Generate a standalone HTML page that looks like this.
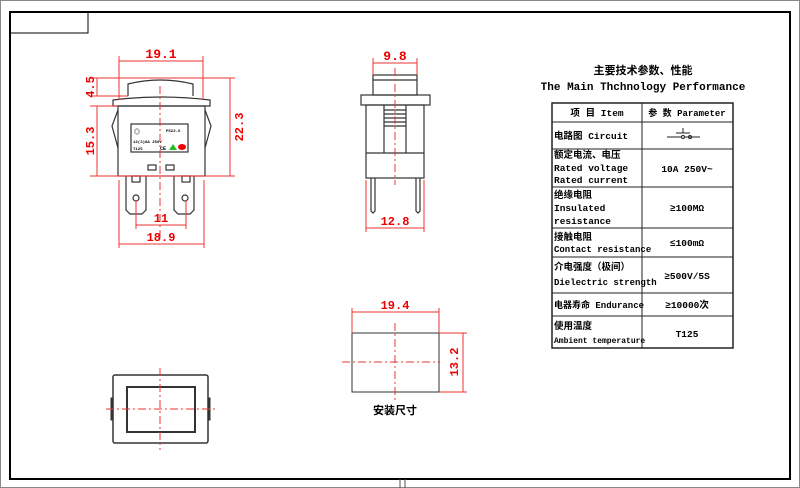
<!DOCTYPE html>
<html><head><meta charset="utf-8"><style>
body{margin:0;background:#fff}
svg{display:block}
.r{fill:#e00;font-family:"Liberation Mono","Noto Sans CJK SC",monospace;font-weight:bold}
.k{font-family:"Liberation Mono","Noto Sans CJK SC",monospace;font-weight:bold;fill:#000}
</style></head><body>
<svg width="800" height="488" viewBox="0 0 800 488" xmlns="http://www.w3.org/2000/svg">
<rect x="0.5" y="0.5" width="799" height="487" fill="none" stroke="#888"/>
<rect x="10" y="12" width="780" height="467" fill="none" stroke="#000" stroke-width="2"/>
<rect x="10" y="12" width="78" height="21" fill="none" stroke="#000"/>
<line x1="400" y1="479" x2="400" y2="488" stroke="#555"/><line x1="405" y1="479" x2="405" y2="488" stroke="#555"/>

<!-- front view -->
<g stroke="#333" fill="none" stroke-width="1.2">
<path d="M128 96 L128 84 Q160 76 193 84 L193 96"/>
<path d="M113 106 L113 100 Q160 94 210 100 L210 106 Z"/>
<rect x="118" y="106" width="87" height="70"/>
<path d="M118 110 L112 126 L118 148"/><path d="M205 110 L211 126 L205 148"/>
<rect x="131" y="124" width="57" height="28"/>
<rect x="148" y="165" width="8" height="5"/><rect x="166" y="165" width="8" height="5"/>
<path d="M126 176 L126 210 L130 214 L142 214 L146 210 L146 176"/>
<path d="M174 176 L174 210 L178 214 L190 214 L194 210 L194 176"/>
<rect x="132" y="176" width="8" height="6"/><rect x="182" y="176" width="8" height="6"/>
<circle cx="136" cy="198" r="3"/><circle cx="185" cy="198" r="3"/>
</g>
<text x="134" y="134" font-size="6" class="k">◎</text>
<text x="133" y="143" font-size="4" class="k">12(3)8A 250V</text>
<text x="133" y="150" font-size="4" class="k">T125</text>
<text x="166" y="132" font-size="4" class="k">PS22-6</text>
<text x="160" y="150" font-size="5" class="k">CE</text>
<polygon points="169,150 173,144 177,150" fill="#2b2"/>
<ellipse cx="182" cy="147" rx="4" ry="3" fill="#e00"/>
<g stroke="#e33" fill="none" stroke-width="1">
<line x1="160" y1="86" x2="160" y2="240" stroke-dasharray="8,3,2,3"/>
<line x1="119" y1="61" x2="203" y2="61"/><line x1="119" y1="56" x2="119" y2="100"/><line x1="203" y1="56" x2="203" y2="100"/>
<line x1="90" y1="78" x2="235" y2="78"/><line x1="90" y1="96" x2="128" y2="96"/>
<line x1="97" y1="78" x2="97" y2="96"/>
<line x1="90" y1="106" x2="118" y2="106"/><line x1="90" y1="176" x2="235" y2="176"/>
<line x1="97" y1="106" x2="97" y2="176"/>
<line x1="230" y1="78" x2="230" y2="176"/>
<line x1="136" y1="200" x2="136" y2="229"/><line x1="186" y1="200" x2="186" y2="229"/>
<line x1="136" y1="225" x2="186" y2="225"/>
<line x1="119" y1="180" x2="119" y2="248"/><line x1="204" y1="180" x2="204" y2="248"/>
<line x1="119" y1="244" x2="204" y2="244"/>
</g>
<text x="161" y="58" font-size="13" class="r" text-anchor="middle">19.1</text>
<text x="161" y="222" font-size="12" class="r" text-anchor="middle">11</text>
<text x="161" y="241" font-size="12" class="r" text-anchor="middle">18.9</text>
<text class="r" font-size="12" transform="translate(94,87) rotate(-90)" text-anchor="middle">4.5</text>
<text class="r" font-size="12" transform="translate(94,141) rotate(-90)" text-anchor="middle">15.3</text>
<text class="r" font-size="12" transform="translate(243,127) rotate(-90)" text-anchor="middle">22.3</text>

<!-- side view -->
<g stroke="#333" fill="none" stroke-width="1.2">
<rect x="373" y="75" width="44" height="20"/><line x1="373" y1="80" x2="417" y2="80"/>
<rect x="361" y="95" width="69" height="10"/>
<rect x="366" y="105" width="58" height="73"/>
<line x1="366" y1="153" x2="424" y2="153"/>
<line x1="384" y1="105" x2="384" y2="153"/><line x1="406" y1="105" x2="406" y2="153"/>
<line x1="384" y1="110" x2="406" y2="110"/><line x1="384" y1="114" x2="406" y2="114"/><line x1="384" y1="118" x2="406" y2="118"/><line x1="384" y1="122" x2="406" y2="122"/><line x1="384" y1="126" x2="406" y2="126"/>
<path d="M371 178 L371 211 L373 213 L375 211 L375 178"/>
<path d="M416 178 L416 211 L418 213 L420 211 L420 178"/>
</g>
<g stroke="#e33" fill="none">
<line x1="395" y1="68" x2="395" y2="185" stroke-dasharray="8,3,2,3"/>
<line x1="373" y1="63" x2="417" y2="63"/><line x1="373" y1="58" x2="373" y2="75"/><line x1="417" y1="58" x2="417" y2="75"/>
<line x1="366" y1="228" x2="424" y2="228"/><line x1="366" y1="180" x2="366" y2="232"/><line x1="424" y1="180" x2="424" y2="232"/>
</g>
<text x="395" y="60" font-size="13" class="r" text-anchor="middle">9.8</text>
<text x="395" y="225" font-size="12" class="r" text-anchor="middle">12.8</text>

<!-- bottom left -->
<g stroke="#333" fill="none">
<rect x="113" y="375" width="95" height="68" rx="2" stroke-width="1.5"/>
<rect x="127" y="387" width="68" height="45" stroke-width="2"/>
<rect x="111" y="398" width="2" height="22" fill="#333"/><rect x="208" y="398" width="2" height="22" fill="#333"/>
</g>
<g stroke="#e33" stroke-dasharray="8,3,2,3"><line x1="160" y1="368" x2="160" y2="450"/><line x1="106" y1="409" x2="216" y2="409"/></g>

<!-- cutout -->
<rect x="352" y="333" width="87" height="59" fill="none" stroke="#333"/>
<g stroke="#e33" fill="none">
<line x1="395" y1="323" x2="395" y2="403" stroke-dasharray="8,3,2,3"/>
<line x1="342" y1="362" x2="440" y2="362" stroke-dasharray="8,3,2,3"/>
<line x1="352" y1="312" x2="439" y2="312"/><line x1="352" y1="308" x2="352" y2="333"/><line x1="439" y1="308" x2="439" y2="333"/>
<line x1="439" y1="333" x2="467" y2="333"/><line x1="439" y1="392" x2="467" y2="392"/><line x1="463" y1="333" x2="463" y2="392"/>
</g>
<text x="395" y="309" font-size="12" class="r" text-anchor="middle">19.4</text>
<text class="r" font-size="12" transform="translate(458,362) rotate(-90)" text-anchor="middle">13.2</text>
<text x="395" y="414" font-size="11" class="k" text-anchor="middle">安装尺寸</text>

<!-- table -->
<text x="643" y="74" font-size="11" class="k" text-anchor="middle">主要技术参数、性能</text>
<text x="643" y="90" font-size="11" class="k" text-anchor="middle">The Main Thchnology Performance</text>
<g stroke="#222" fill="none" stroke-width="1">
<rect x="552" y="103" width="181" height="245" stroke-width="1.5"/>
<line x1="642" y1="103" x2="642" y2="348"/>
<line x1="552" y1="122" x2="733" y2="122"/><line x1="552" y1="149" x2="733" y2="149"/>
<line x1="552" y1="187" x2="733" y2="187"/><line x1="552" y1="228" x2="733" y2="228"/>
<line x1="552" y1="257" x2="733" y2="257"/><line x1="552" y1="293" x2="733" y2="293"/>
<line x1="552" y1="316" x2="733" y2="316"/>
<path d="M667 137 L682 137 M685 137 L700 137 M676 133 L690 133 M683 128 L683 133"/>
<circle cx="683" cy="137" r="1.5"/><circle cx="690" cy="137" r="1.5"/>
</g>
<g class="k" font-size="9.5">
<text x="597" y="116" text-anchor="middle">项 目 Item</text>
<text x="687" y="116" text-anchor="middle" font-size="9">参 数 Parameter</text>
<text x="554" y="139">电路图 Circuit</text>
<text x="554" y="158">额定电流、电压</text>
<text x="554" y="171">Rated voltage</text>
<text x="554" y="183">Rated current</text>
<text x="687" y="172" text-anchor="middle">10A 250V~</text>
<text x="554" y="198">绝缘电阻</text>
<text x="554" y="211">Insulated</text>
<text x="554" y="224">resistance</text>
<text x="687" y="211" text-anchor="middle">≥100MΩ</text>
<text x="554" y="240">接触电阻</text>
<text x="554" y="252" font-size="9">Contact resistance</text>
<text x="687" y="246" text-anchor="middle">≤100mΩ</text>
<text x="554" y="270">介电强度（极间）</text>
<text x="554" y="285" font-size="9">Dielectric strength</text>
<text x="687" y="279" text-anchor="middle">≥500V/5S</text>
<text x="554" y="308" font-size="9">电器寿命 Endurance</text>
<text x="687" y="308" text-anchor="middle">≥10000次</text>
<text x="554" y="329">使用温度</text>
<text x="554" y="343" font-size="8">Ambient temperature</text>
<text x="687" y="337" text-anchor="middle">T125</text>
</g>
</svg>
</body></html>
